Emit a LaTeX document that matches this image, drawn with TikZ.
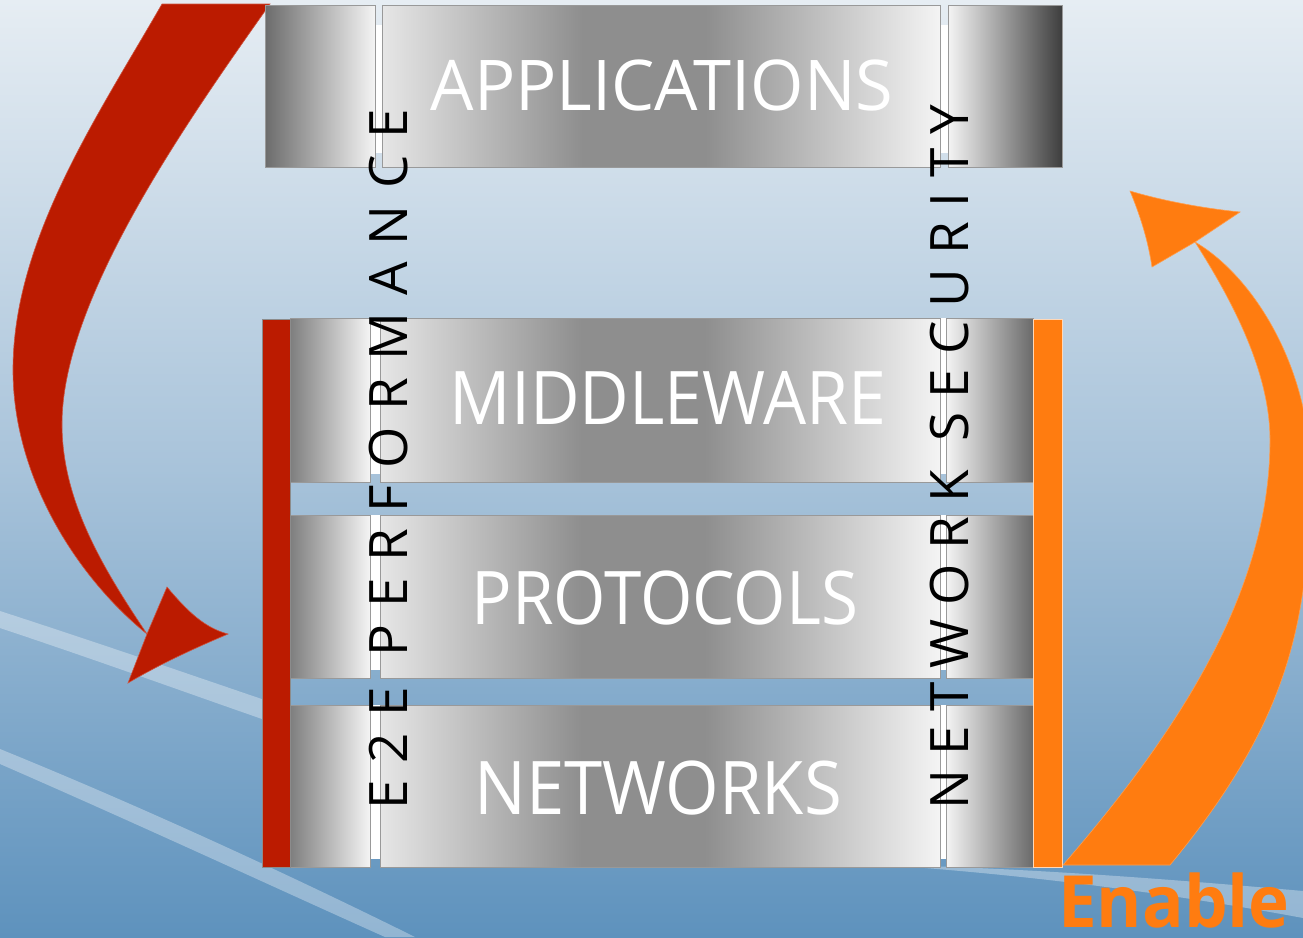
\documentclass[tikz,border=0pt]{standalone}
\usepackage{fontspec}
\setmainfont{Open Sans}
\newfontfamily\vfontA[LetterSpace=31.6]{Open Sans}
\newfontfamily\vfontB[LetterSpace=27]{Open Sans}
\definecolor{bgTop}{HTML}{E6EDF3}
\definecolor{bgMid}{HTML}{A8C3DA}
\definecolor{bgBot}{HTML}{5E92BD}
\definecolor{arrRed}{HTML}{BB1B00}
\definecolor{arrOra}{HTML}{FF7C10}
\definecolor{colA}{HTML}{E6E6E6}
\definecolor{colB}{HTML}{8E8E8E}
\definecolor{colC}{HTML}{F4F4F4}
\definecolor{appL}{HTML}{6C6C6C}
\definecolor{appR}{HTML}{3E3E3E}
\definecolor{stkL}{HTML}{7E7E7E}
\definecolor{stkR}{HTML}{6A6A6A}
\pgfdeclarehorizontalshading{midcol}{100bp}{color(0bp)=(colA); color(25bp)=(colA); color(43bp)=(colB); color(54bp)=(colB); color(75bp)=(colC); color(100bp)=(colC)}
\tikzset{
  boxline/.style={draw=black!40, line width=0.7pt},
  title/.style={text=white, inner sep=0pt, font=\fontsize{74}{80}\selectfont},
  vlabel/.style={text=black, inner sep=0pt, rotate=90, anchor=base west},
  swoosh/.style={fill=white, opacity=0.33},
  redarrow/.style={fill=arrRed, draw=arrRed!75!white, line width=0.6pt},
  orarrow/.style={fill=arrOra, draw=arrOra!75!white, line width=0.6pt}
}
\begin{document}
\begin{tikzpicture}[x=1pt,y=-1pt]
\useasboundingbox (0,0) rectangle (1303,937);
% background
\fill[top color=bgTop, bottom color=bgBot, middle color=bgMid] (0,0) rectangle (1303,937);
\fill[swoosh] (0,611) .. controls (120,650) and (220,685) .. (300,712) -- (300,732) .. controls (220,705) and (120,668) .. (0,628) -- cycle;
\fill[swoosh] (0,749) .. controls (150,810) and (300,880) .. (415,937) -- (385,937) .. controls (280,890) and (140,825) .. (0,764) -- cycle;
\fill[swoosh] (925,866) .. controls (1050,870) and (1180,880) .. (1303,891) -- (1303,918) .. controls (1180,895) and (1050,878) .. (925,868) -- cycle;

% red arrow (behind the boxes)
\coordinate (rNeck) at (147,634);
\coordinate (rTip) at (228,634);
\fill[redarrow] (162,4) .. controls (97,117) and (13,240) .. (13,370)
  .. controls (13,480) and (80,580) .. (rNeck)
  .. controls (102,567) and (62,500) .. (62,424)
  .. controls (62,300) and (185,124) .. (270,4) -- cycle;
\fill[redarrow] (rNeck) -- (167,587) .. controls (188,612) and (205,628) .. (rTip)
  .. controls (195,648) and (160,664) .. (128,683) -- cycle;

% applications layer
\fill[left color=appL, right color=colC] (265,5) rectangle (375,167);
\fill[white] (375,25) rectangle (382,153);
\fill[shading=midcol] (382,5) rectangle (940,167);
\fill[white] (940,25) rectangle (948,153);
\fill[left color=colC, right color=appR] (948,5) rectangle (1062,167);
\draw[boxline] (265,5) rectangle (375,167);
\draw[boxline] (382,5) rectangle (940,167);
\draw[boxline] (948,5) rectangle (1062,167);

% stack layers
\foreach \yt/\yb in {318/482, 515/678, 705/867} {
  \fill[left color=stkL, right color=colC] (290,\yt) rectangle (370,\yb);
  \fill[white] (370,\yt) rectangle (380,\yb-8);
  \fill[shading=midcol] (380,\yt) rectangle (940,\yb);
  \fill[white] (940,\yt) rectangle (946,\yb-8);
  \fill[left color=colC, right color=stkR] (946,\yt) rectangle (1033,\yb);
  \draw[boxline] (290,\yt) rectangle (370,\yb);
  \draw[boxline] (380,\yt) rectangle (940,\yb);
  \draw[boxline] (946,\yt) rectangle (1033,\yb);
}

% side bars
\fill[arrRed, draw=black!45, line width=0.6pt] (262,319) rectangle (290,867);
\fill[arrOra, draw=white!70!arrOra, line width=0.6pt] (1033,319) rectangle (1062,867);

% titles
\node[title, font=\fontsize{70}{80}\selectfont, xscale=0.98] (app) at (662,85) {APPLICATIONS};
\node[title, xscale=0.92] (mid) at (668,398) {MIDDLEWARE};
\node[title, xscale=0.91] (pro) at (665,598) {PROTOCOLS};
\node[title, xscale=0.93] (net) at (658,788) {NETWORKS};

% vertical labels
\node[vlabel, font=\vfontA\fontsize{53}{60}\selectfont] (perf) at (407,810) {E2E PERFORMANCE};
\node[vlabel, font=\vfontB\fontsize{53}{60}\selectfont] (sec) at (968,810) {NETWORK SECURITY};

% orange arrow
\coordinate (oNeck) at (1195,242);
\coordinate (oTip) at (1130,191);
\fill[orarrow] (1063,865) .. controls (1180,730) and (1270,590) .. (1270,440)
  .. controls (1270,370) and (1230,297) .. (oNeck)
  .. controls (1255,277) and (1310,370) .. (1310,470)
  .. controls (1310,620) and (1290,720) .. (1170,865) -- cycle;
\fill[orarrow] (oNeck) -- (1240,212) .. controls (1200,208) and (1160,200) .. (oTip)
  .. controls (1140,215) and (1148,240) .. (1152,267) -- cycle;

\node[font=\bfseries\fontsize{72}{80}\selectfont, text=arrOra, anchor=base west, inner sep=0pt, xscale=0.96] (enable) at (1058,927) {Enable};
\end{tikzpicture}
\end{document}
